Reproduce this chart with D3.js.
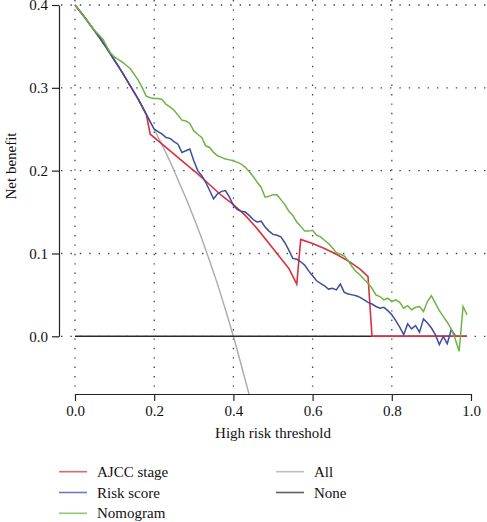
<!DOCTYPE html>
<html>
<head>
<meta charset="utf-8">
<script src="https://cdn.jsdelivr.net/npm/d3@7"></script>
<style>
  html, body { margin: 0; padding: 0; background: #fff; }
  svg { display: block; }
  text { font-family: "Liberation Serif", "DejaVu Serif", serif; fill: #111; }
</style>
</head>
<body>
<svg id="chart" width="487" height="522"></svg>
<script>
// ---------- data ----------
const xTicks = [0, 0.2, 0.4, 0.6, 0.8, 1.0];
const yTicks = [0, 0.1, 0.2, 0.3, 0.4];
const xGrid = [0, 0.2, 0.4, 0.6, 0.8];

const allT  = [0, 0.02, 0.04, 0.06, 0.08, 0.10, 0.12, 0.14, 0.16, 0.18, 0.20, 0.22, 0.24, 0.26, 0.28, 0.30, 0.32, 0.34, 0.36, 0.38, 0.40, 0.42, 0.44, 0.46];
const allNB = [0.400, 0.388, 0.375, 0.362, 0.348, 0.333, 0.318, 0.302, 0.286, 0.268, 0.250, 0.231, 0.211, 0.189, 0.167, 0.143, 0.118, 0.091, 0.063, 0.032, 0.000, -0.035, -0.071, -0.111];

const noneT  = [0, 0.99];
const noneNB = [0, 0];

const ajccT  = [0, 0.02, 0.04, 0.06, 0.08, 0.10, 0.12, 0.14, 0.16, 0.18, 0.19, 0.22, 0.25, 0.28, 0.31, 0.34, 0.37, 0.40, 0.43, 0.46, 0.49, 0.52, 0.54, 0.56, 0.57, 0.60, 0.63, 0.66, 0.69, 0.72, 0.74, 0.75, 0.99];
const ajccNB = [0.400, 0.388, 0.375, 0.362, 0.348, 0.333, 0.318, 0.302, 0.286, 0.268, 0.244, 0.232, 0.220, 0.208, 0.196, 0.183, 0.170, 0.159, 0.146, 0.130, 0.112, 0.094, 0.082, 0.063, 0.117, 0.112, 0.106, 0.099, 0.091, 0.081, 0.072, 0.000, 0.000];

const riskT  = [0, 0.02, 0.04, 0.06, 0.08, 0.10, 0.12, 0.14, 0.16, 0.18, 0.20, 0.21, 0.22, 0.23, 0.24, 0.25, 0.26, 0.27, 0.28, 0.29, 0.30, 0.31, 0.32, 0.33, 0.34, 0.35, 0.36, 0.37, 0.38, 0.39, 0.40, 0.41, 0.42, 0.43, 0.44, 0.45, 0.46, 0.47, 0.48, 0.49, 0.50, 0.51, 0.52, 0.53, 0.54, 0.55, 0.56, 0.57, 0.58, 0.59, 0.60, 0.61, 0.62, 0.63, 0.64, 0.65, 0.66, 0.67, 0.68, 0.69, 0.70, 0.71, 0.72, 0.73, 0.74, 0.75, 0.76, 0.77, 0.78, 0.79, 0.80, 0.81, 0.82, 0.83, 0.84, 0.85, 0.86, 0.87, 0.88, 0.89, 0.90, 0.91, 0.92, 0.93, 0.94, 0.95, 0.96];
const riskNB = [0.400, 0.388, 0.375, 0.362, 0.348, 0.333, 0.318, 0.302, 0.286, 0.268, 0.250, 0.247, 0.244, 0.240, 0.239, 0.235, 0.232, 0.222, 0.224, 0.226, 0.212, 0.200, 0.194, 0.186, 0.176, 0.166, 0.172, 0.175, 0.176, 0.168, 0.158, 0.153, 0.151, 0.150, 0.146, 0.141, 0.138, 0.139, 0.132, 0.127, 0.123, 0.122, 0.120, 0.113, 0.104, 0.094, 0.093, 0.090, 0.086, 0.079, 0.073, 0.067, 0.064, 0.061, 0.057, 0.058, 0.056, 0.063, 0.053, 0.051, 0.050, 0.049, 0.047, 0.044, 0.041, 0.039, 0.036, 0.034, 0.035, 0.031, 0.026, 0.019, 0.011, 0.002, 0.015, 0.009, 0.013, 0.005, 0.021, 0.016, 0.010, 0.002, -0.010, 0.000, -0.009, 0.008, 0.001];

const nomoT  = [0, 0.02, 0.04, 0.05, 0.06, 0.07, 0.08, 0.09, 0.10, 0.11, 0.12, 0.13, 0.14, 0.15, 0.16, 0.17, 0.18, 0.19, 0.20, 0.21, 0.22, 0.23, 0.24, 0.25, 0.26, 0.27, 0.28, 0.29, 0.30, 0.31, 0.32, 0.33, 0.34, 0.35, 0.36, 0.37, 0.38, 0.39, 0.40, 0.41, 0.42, 0.43, 0.44, 0.45, 0.46, 0.47, 0.48, 0.49, 0.50, 0.51, 0.52, 0.53, 0.54, 0.55, 0.56, 0.57, 0.58, 0.59, 0.60, 0.61, 0.62, 0.63, 0.64, 0.65, 0.66, 0.67, 0.68, 0.69, 0.70, 0.71, 0.72, 0.73, 0.74, 0.75, 0.76, 0.77, 0.78, 0.79, 0.80, 0.81, 0.82, 0.83, 0.84, 0.85, 0.86, 0.87, 0.88, 0.89, 0.90, 0.91, 0.92, 0.93, 0.94, 0.95, 0.96, 0.97, 0.98, 0.99];
const nomoNB = [0.400, 0.388, 0.375, 0.369, 0.364, 0.359, 0.350, 0.342, 0.337, 0.334, 0.331, 0.327, 0.323, 0.316, 0.309, 0.300, 0.290, 0.288, 0.287, 0.287, 0.286, 0.280, 0.277, 0.273, 0.267, 0.261, 0.260, 0.257, 0.248, 0.244, 0.240, 0.230, 0.228, 0.222, 0.218, 0.216, 0.214, 0.213, 0.212, 0.210, 0.208, 0.204, 0.199, 0.193, 0.186, 0.180, 0.168, 0.169, 0.171, 0.171, 0.165, 0.159, 0.151, 0.146, 0.138, 0.133, 0.127, 0.127, 0.128, 0.122, 0.120, 0.116, 0.112, 0.107, 0.101, 0.099, 0.097, 0.091, 0.084, 0.078, 0.074, 0.069, 0.064, 0.058, 0.050, 0.048, 0.044, 0.046, 0.042, 0.044, 0.041, 0.034, 0.037, 0.032, 0.035, 0.036, 0.030, 0.042, 0.049, 0.040, 0.031, 0.024, 0.017, 0.009, -0.003, -0.018, 0.036, 0.026];

const seriesNames = ["AJCC stage", "Risk score", "Nomogram", "All", "None"];
const seriesColors = ["#dc3040", "#3b4f9e", "#6cb443", "#aaaaaa", "#2a2a2a"];

// ---------- layout ----------
const svg = d3.select("#chart");
const x = d3.scaleLinear().domain([0, 1]).range([75, 471]);
const y = d3.scaleLinear().domain([0, 0.4]).range([336.3, 5]);
const plotL = 59, plotR = 487, plotT = -12, plotB = 394;

svg.append("defs").append("clipPath").attr("id", "clip")
  .append("rect").attr("x", plotL).attr("y", plotT)
  .attr("width", plotR - plotL).attr("height", plotB - plotT);

// grid
const grid = svg.append("g").attr("stroke", "#444").attr("stroke-width", 1.3)
  .attr("stroke-dasharray", "1.4,8").attr("fill", "none");
grid.selectAll("line.h").data(yTicks).join("line").attr("class", "h")
  .attr("x1", plotL + 2).attr("x2", plotR).attr("y1", d => y(d)).attr("y2", d => y(d));
grid.selectAll("line.v").data(xGrid).join("line").attr("class", "v")
  .attr("y1", 0).attr("y2", plotB - 4).attr("x1", d => x(d)).attr("x2", d => x(d));

// axes
const xAxis = d3.axisBottom(x).tickValues(xTicks).tickFormat(d3.format(".1f")).tickSize(7).tickSizeOuter(0).tickPadding(4);
const gx = svg.append("g").attr("transform", `translate(0,${plotB})`).call(xAxis);
const yAxis = d3.axisLeft(y).tickValues(yTicks).tickFormat(d3.format(".1f")).tickSize(7).tickSizeOuter(0).tickPadding(4);
const gy = svg.append("g").attr("transform", `translate(${plotL},0)`).call(yAxis);
[gx, gy].forEach(g => {
  g.select(".domain").attr("stroke", "#222").attr("stroke-width", 1.2);
  g.selectAll(".tick line").attr("stroke", "#222").attr("stroke-width", 1.2);
  g.selectAll(".tick text").attr("font-size", 15).attr("fill", "#111")
    .attr("font-family", '"Liberation Serif", "DejaVu Serif", serif');
});

// lines
const line = d3.line().x(d => x(d[0])).y(d => y(d[1]));
const lines = svg.append("g").attr("clip-path", "url(#clip)").attr("fill", "none");
const zip = (t, v) => t.map((d, i) => [d, v[i]]);
lines.append("path").attr("d", line(zip(allT, allNB))).attr("stroke", seriesColors[3]).attr("stroke-width", 1.4);
lines.append("path").attr("d", line(zip(noneT, noneNB))).attr("stroke", seriesColors[4]).attr("stroke-width", 1.4);
lines.append("path").attr("d", line(zip(ajccT, ajccNB))).attr("stroke", seriesColors[0]).attr("stroke-width", 1.6);
lines.append("path").attr("d", line(zip(riskT, riskNB))).attr("stroke", seriesColors[1]).attr("stroke-width", 1.5);
lines.append("path").attr("d", line(zip(nomoT, nomoNB))).attr("stroke", seriesColors[2]).attr("stroke-width", 1.5);

// axis titles
svg.append("text").attr("x", 273).attr("y", 438).attr("text-anchor", "middle")
  .attr("font-size", 15).text("High risk threshold");
svg.append("text").attr("transform", "translate(15.5,166) rotate(-90)").attr("text-anchor", "middle")
  .attr("font-size", 15).text("Net benefit");

// legend
const legPos = [[59, 471.7], [59, 492.5], [59, 513.3], [276, 471.7], [276, 492.5]];
const leg = svg.append("g");
seriesNames.forEach((name, i) => {
  const [lx, ly] = legPos[i];
  leg.append("line").attr("x1", lx).attr("x2", lx + 28).attr("y1", ly).attr("y2", ly)
    .attr("stroke", seriesColors[i]).attr("stroke-width", 1.6).attr("stroke-opacity", 0.75);
  leg.append("text").attr("x", lx + 38).attr("y", ly + 5).attr("font-size", 15).text(name);
});
</script>
</body>
</html>
